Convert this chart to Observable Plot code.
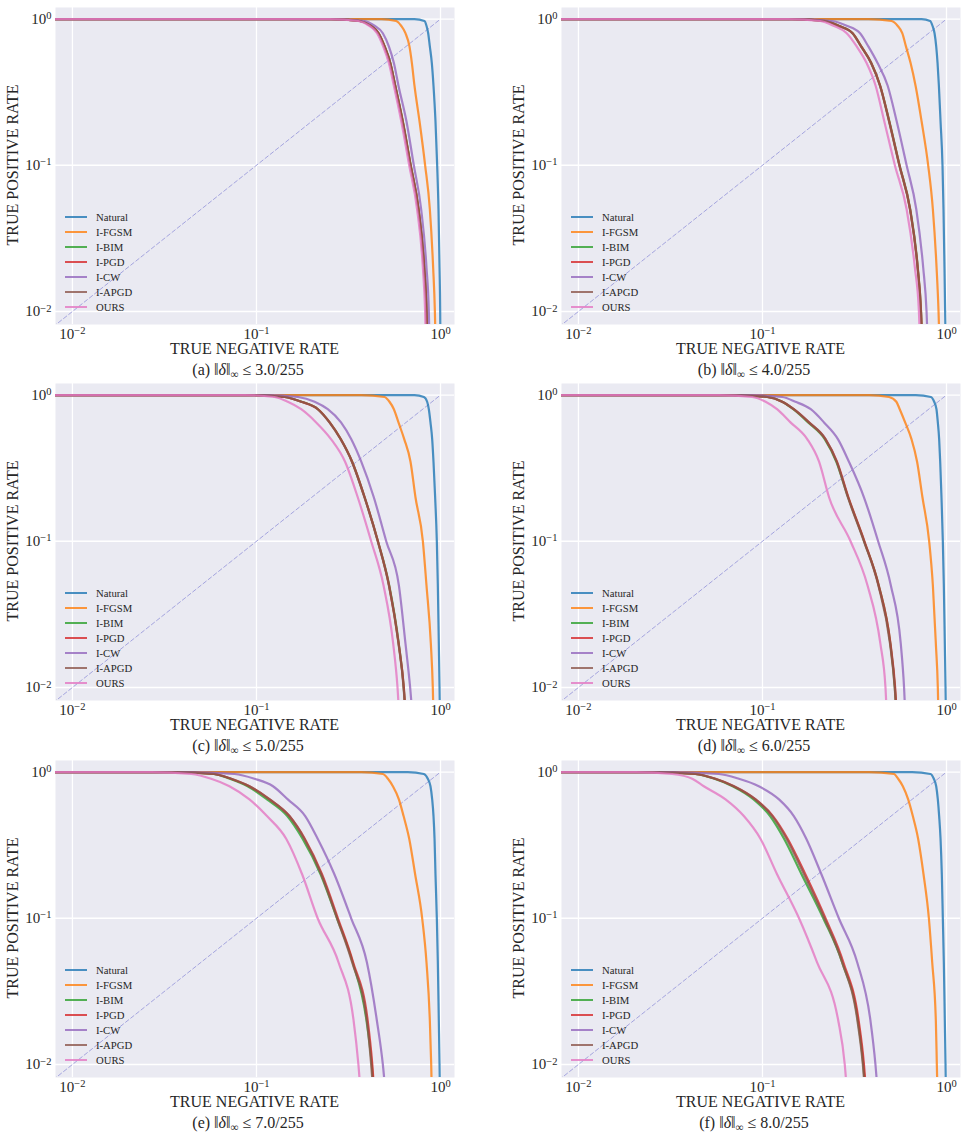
<!DOCTYPE html>
<html>
<head>
<meta charset="utf-8">
<script src="https://cdn.jsdelivr.net/npm/d3@7"></script>
<script src="https://cdn.jsdelivr.net/npm/@observablehq/plot@0.6"></script>
<style>
  body { margin: 0; background: #fff; font-family: "Liberation Serif", "Times New Roman", serif; color: #262626; }
  #fig { position: relative; width: 965px; height: 1138px; }
  .panel { position: absolute; width: 460px; height: 377px; }
  .panel svg { position: absolute; left: 0; top: 0; overflow: visible; }
  .panel svg text.tick10 { font-family: "Liberation Serif", "Times New Roman", serif !important; font-size: 15px !important; fill: #262626; }
  .ylab { position: absolute; left: 13px; top: 165px; transform: translate(-50%, -50%) rotate(-90deg); white-space: nowrap; font-size: 16px; }
  .xlab { position: absolute; left: 254.5px; top: 349px; transform: translate(-50%, -50%); white-space: nowrap; font-size: 16px; }
  .cap { position: absolute; left: 248px; top: 370px; transform: translate(-50%, -50%); white-space: nowrap; font-size: 16px; }
  .cap sub { font-size: 0.7em; vertical-align: -0.3em; line-height: 0; }
  .leg { position: absolute; left: 0; top: 0; font-size: 10.7px; }
  .leg .row { position: absolute; height: 15px; display: flex; align-items: center; white-space: nowrap; }
  .leg .sw { width: 22px; height: 2.6px; margin-right: 9px; }
</style>
</head>
<body>
<div id="fig"></div>
<script>
// Methods, in drawing order, with their line colours
const methods = ["Natural", "I-FGSM", "I-BIM", "I-PGD", "I-CW", "I-APGD", "OURS"];
const colors = ["#1f77b4", "#ff7f0e", "#2ca02c", "#d62728", "#9467bd", "#8c564b", "#e377c2"];

// Panels: letter and L-infinity budget (numerator over 255)
const panelLetters = ["a", "b", "c", "d", "e", "f"];
const budgets = ["3.0", "4.0", "5.0", "6.0", "7.0", "8.0"];

// Decade ticks on both axes
const decadeTicks = [0.01, 0.1, 1];

// True positive rate levels shared by every curve; the first point sits
// left of the visible range at TNR = tnrFloor.
const tnrFloor = 0.005;
const tprLevels = [1, 1, 0.97, 0.9, 0.8, 0.65, 0.5, 0.35, 0.2, 0.1, 0.05, 0.02, 0.01, 0.005];

// True negative rate at each level above (after the floor point), one row per panel a–f
const tnrNatural = [
  [0.722, 0.818, 0.839, 0.857, 0.875, 0.897, 0.916, 0.939, 0.959, 0.975, 0.988, 0.996, 1.0],
  [0.732, 0.815, 0.839, 0.861, 0.879, 0.894, 0.909, 0.928, 0.951, 0.963, 0.975, 0.983, 0.992],
  [0.722, 0.812, 0.846, 0.864, 0.882, 0.901, 0.916, 0.935, 0.955, 0.967, 0.979, 0.988, 0.996],
  [0.681, 0.822, 0.857, 0.882, 0.897, 0.912, 0.924, 0.939, 0.955, 0.967, 0.979, 0.988, 0.996],
  [0.665, 0.812, 0.853, 0.882, 0.901, 0.916, 0.928, 0.939, 0.955, 0.967, 0.979, 0.988, 0.996],
  [0.651, 0.818, 0.853, 0.879, 0.897, 0.912, 0.928, 0.943, 0.955, 0.967, 0.979, 0.988, 0.996]
];
const tnrFGSM = [
  [0.476, 0.574, 0.611, 0.645, 0.678, 0.699, 0.722, 0.769, 0.825, 0.875, 0.912, 0.932, 0.943],
  [0.376, 0.503, 0.542, 0.575, 0.602, 0.638, 0.679, 0.732, 0.795, 0.843, 0.883, 0.905, 0.920],
  [0.371, 0.496, 0.528, 0.558, 0.591, 0.635, 0.687, 0.731, 0.802, 0.839, 0.886, 0.908, 0.920],
  [0.379, 0.487, 0.534, 0.557, 0.596, 0.645, 0.692, 0.740, 0.805, 0.843, 0.875, 0.897, 0.908],
  [0.371, 0.486, 0.518, 0.551, 0.594, 0.630, 0.676, 0.728, 0.795, 0.839, 0.875, 0.890, 0.901],
  [0.378, 0.518, 0.546, 0.579, 0.619, 0.656, 0.701, 0.750, 0.802, 0.836, 0.875, 0.886, 0.897]
];
const tnrBIM = [
  [0.255, 0.365, 0.419, 0.461, 0.497, 0.534, 0.568, 0.624, 0.689, 0.760, 0.816, 0.840, 0.851],
  [0.145, 0.221, 0.260, 0.309, 0.344, 0.390, 0.436, 0.489, 0.556, 0.635, 0.698, 0.727, 0.742],
  [0.0940, 0.143, 0.176, 0.216, 0.250, 0.287, 0.331, 0.387, 0.457, 0.526, 0.593, 0.631, 0.655],
  [0.0690, 0.107, 0.128, 0.147, 0.177, 0.218, 0.252, 0.292, 0.357, 0.428, 0.495, 0.524, 0.542],
  [0.0360, 0.0585, 0.0715, 0.0895, 0.114, 0.147, 0.178, 0.223, 0.274, 0.333, 0.396, 0.423, 0.441],
  [0.0252, 0.0430, 0.0548, 0.0688, 0.0895, 0.110, 0.131, 0.163, 0.214, 0.271, 0.330, 0.353, 0.368]
];
const tnrPGD = [
  [0.254, 0.364, 0.418, 0.461, 0.497, 0.533, 0.567, 0.623, 0.688, 0.760, 0.816, 0.840, 0.851],
  [0.144, 0.220, 0.259, 0.309, 0.344, 0.390, 0.436, 0.488, 0.555, 0.634, 0.697, 0.727, 0.742],
  [0.0935, 0.142, 0.175, 0.216, 0.250, 0.287, 0.331, 0.387, 0.457, 0.525, 0.592, 0.632, 0.655],
  [0.0684, 0.106, 0.128, 0.148, 0.179, 0.220, 0.254, 0.293, 0.358, 0.428, 0.496, 0.526, 0.544],
  [0.0358, 0.0590, 0.0728, 0.0915, 0.118, 0.151, 0.183, 0.227, 0.277, 0.335, 0.402, 0.426, 0.443],
  [0.0251, 0.0432, 0.0555, 0.0700, 0.0918, 0.114, 0.137, 0.171, 0.220, 0.275, 0.333, 0.356, 0.371]
];
const tnrCW = [
  [0.265, 0.386, 0.438, 0.486, 0.524, 0.558, 0.591, 0.653, 0.716, 0.785, 0.839, 0.864, 0.875],
  [0.157, 0.238, 0.287, 0.339, 0.376, 0.422, 0.479, 0.536, 0.607, 0.685, 0.747, 0.779, 0.795],
  [0.115, 0.168, 0.207, 0.244, 0.288, 0.327, 0.371, 0.434, 0.507, 0.594, 0.645, 0.684, 0.716],
  [0.0843, 0.128, 0.151, 0.183, 0.216, 0.257, 0.295, 0.356, 0.425, 0.498, 0.564, 0.588, 0.603],
  [0.0406, 0.0759, 0.0975, 0.123, 0.148, 0.184, 0.215, 0.265, 0.327, 0.398, 0.451, 0.486, 0.511],
  [0.0310, 0.0579, 0.0744, 0.0955, 0.123, 0.148, 0.173, 0.209, 0.260, 0.327, 0.386, 0.411, 0.429]
];
const tnrAPGD = [
  [0.254, 0.363, 0.417, 0.460, 0.496, 0.533, 0.567, 0.622, 0.687, 0.759, 0.815, 0.839, 0.850],
  [0.144, 0.219, 0.258, 0.308, 0.343, 0.389, 0.435, 0.487, 0.554, 0.633, 0.696, 0.726, 0.741],
  [0.0935, 0.142, 0.175, 0.215, 0.249, 0.286, 0.330, 0.386, 0.456, 0.524, 0.591, 0.630, 0.653],
  [0.0684, 0.106, 0.128, 0.148, 0.179, 0.220, 0.253, 0.291, 0.356, 0.426, 0.493, 0.523, 0.541],
  [0.0358, 0.0591, 0.0729, 0.0916, 0.118, 0.151, 0.182, 0.225, 0.274, 0.331, 0.398, 0.420, 0.438],
  [0.0251, 0.0432, 0.0555, 0.0699, 0.0916, 0.113, 0.135, 0.168, 0.217, 0.271, 0.328, 0.351, 0.366]
];
const tnrOurs = [
  [0.250, 0.357, 0.410, 0.452, 0.488, 0.524, 0.558, 0.612, 0.676, 0.746, 0.802, 0.825, 0.836],
  [0.138, 0.206, 0.243, 0.287, 0.325, 0.368, 0.412, 0.459, 0.524, 0.607, 0.673, 0.708, 0.723],
  [0.0861, 0.125, 0.148, 0.175, 0.211, 0.254, 0.303, 0.355, 0.420, 0.490, 0.553, 0.584, 0.604],
  [0.0578, 0.0879, 0.104, 0.120, 0.142, 0.175, 0.203, 0.230, 0.301, 0.372, 0.437, 0.466, 0.479],
  [0.0268, 0.0442, 0.0567, 0.0713, 0.0916, 0.114, 0.145, 0.177, 0.215, 0.279, 0.337, 0.358, 0.374],
  [0.0204, 0.0323, 0.0415, 0.0480, 0.0630, 0.0792, 0.0975, 0.120, 0.158, 0.198, 0.258, 0.280, 0.292]
];
const tnrByMethod = [tnrNatural, tnrFGSM, tnrBIM, tnrPGD, tnrCW, tnrAPGD, tnrOurs];

// Chance diagonal TPR = TNR
const diagonal = [0.005, 1];

// Layout of the 3×2 grid of panels
const colLeft = [0, 506];
const rowTop = [0, 376, 753];
const plotLeft = 55, plotTop = 7;

const serif = '"Liberation Serif", "Times New Roman", serif';
const fmtTick = d => "10^" + Math.round(Math.log10(d));

// Turn "10^k" tick strings into a base with a raised exponent
function superscriptTicks(svg) {
  d3.select(svg).selectAll("text").each(function () {
    const m = /^10\^(-?\d+)$/.exec(this.textContent);
    if (!m) return;
    const t = d3.select(this);
    t.classed("tick10", true)
      .style("font-family", serif)
      .style("font-size", "15px");
    this.textContent = "10";
    t.append("tspan")
      .attr("dy", "-0.45em")
      .style("font-size", "10.5px")
      .text(m[1].replace("-", "\u2212"));
  });
}

const fig = document.getElementById("fig");

panelLetters.forEach((letter, p) => {
  const rows = [];
  methods.forEach((method, m) => {
    const tnr = [tnrFloor, ...tnrByMethod[m][p]];
    tnr.forEach((x, i) => rows.push({method, tnr: x, tpr: tprLevels[i]}));
  });

  const svg = Plot.plot({
    width: 460,
    height: 354,
    marginTop: plotTop,
    marginLeft: plotLeft,
    marginRight: 6,
    marginBottom: 30,
    style: {background: "transparent", fontFamily: serif, fontSize: "15px", color: "#262626", overflow: "visible"},
    x: {type: "log", domain: [10 ** -2.092, 10 ** 0.076], label: null},
    y: {type: "log", domain: [10 ** -2.089, 10 ** 0.079], label: null},
    color: {domain: methods, range: colors},
    marks: [
      Plot.frame({fill: "#EAEAF2", stroke: "none"}),
      Plot.gridX(decadeTicks, {stroke: "#ffffff", strokeOpacity: 1, strokeWidth: 1.3}),
      Plot.gridY(decadeTicks, {stroke: "#ffffff", strokeOpacity: 1, strokeWidth: 1.3}),
      Plot.axisX(decadeTicks, {tickSize: 0, tickPadding: 4, tickFormat: fmtTick, label: null, fontSize: 15}),
      Plot.axisY(decadeTicks, {tickSize: 0, tickPadding: 4, tickFormat: fmtTick, label: null, fontSize: 15}),
      Plot.line(diagonal, {x: d => d, y: d => d, stroke: "#9c9cdc", strokeOpacity: 0.9, strokeWidth: 1, strokeDasharray: "4,2.6", clip: true}),
      Plot.line(rows, {x: "tnr", y: "tpr", z: "method", stroke: "method", strokeWidth: 2.2, strokeOpacity: 0.8, curve: "monotone-x", clip: true})
    ]
  });
  superscriptTicks(svg);

  const panel = document.createElement("div");
  panel.className = "panel";
  panel.style.left = colLeft[p % 2] + "px";
  panel.style.top = rowTop[Math.floor(p / 2)] + "px";
  panel.appendChild(svg);

  const ylab = document.createElement("div");
  ylab.className = "ylab";
  ylab.textContent = "TRUE POSITIVE RATE";
  panel.appendChild(ylab);

  const xlab = document.createElement("div");
  xlab.className = "xlab";
  xlab.textContent = "TRUE NEGATIVE RATE";
  panel.appendChild(xlab);

  const cap = document.createElement("div");
  cap.className = "cap";
  cap.innerHTML = `(${letter}) \u2016<i>\u03b4</i>\u2016<sub>\u221e</sub> \u2264 ${budgets[p]}/255`;
  panel.appendChild(cap);

  const leg = document.createElement("div");
  leg.className = "leg";
  methods.forEach((method, m) => {
    const row = document.createElement("div");
    row.className = "row";
    row.style.left = (plotLeft + 10) + "px";
    row.style.top = (plotTop + 210 - 7.5 + 15 * m) + "px";
    const sw = document.createElement("span");
    sw.className = "sw";
    sw.style.background = colors[m];
    sw.style.opacity = 0.8;
    const label = document.createElement("span");
    label.textContent = method;
    row.appendChild(sw);
    row.appendChild(label);
    leg.appendChild(row);
  });
  panel.appendChild(leg);

  fig.appendChild(panel);
});
</script>
</body>
</html>
